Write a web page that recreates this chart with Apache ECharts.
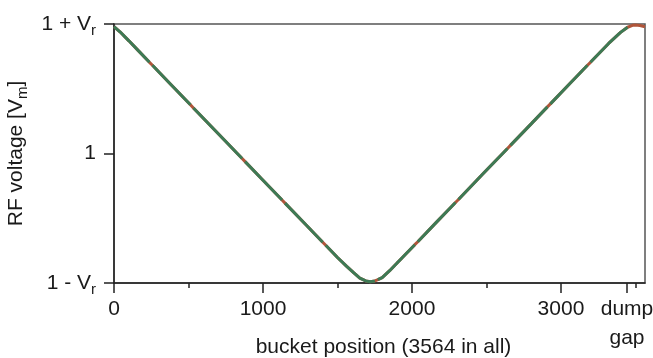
<!DOCTYPE html>
<html>
<head>
<meta charset="utf-8">
<script src="https://cdn.jsdelivr.net/npm/echarts@6/dist/echarts.min.js"></script>
<style>
  html, body { margin: 0; padding: 0; background: #fff; }
  #chart { width: 653px; height: 358px; }
</style>
</head>
<body>
<div id="chart"></div>
<script>
// ---- data ----
const buckets = [0,40,100,160,238,258,380,513,533,700,860,880,1000,1128,1148,1280,1401,1421,1500,1560,1610,1650,1690,1720,1751,1771,1800,1850,1900,2019,2039,2160,2292,2312,2480,2641,2661,2800,2909,2929,3060,3178,3198,3320,3400,3447,3480,3500,3530,3564];
const voltage = [0.979,0.940,0.870,0.798,0.704,0.681,0.535,0.376,0.352,0.152,-0.039,-0.063,-0.206,-0.359,-0.383,-0.541,-0.685,-0.709,-0.803,-0.870,-0.922,-0.962,-0.984,-0.990,-0.984,-0.974,-0.958,-0.905,-0.846,-0.704,-0.681,-0.536,-0.378,-0.355,-0.153,0.039,0.063,0.229,0.360,0.383,0.540,0.681,0.704,0.850,0.935,0.975,0.990,0.992,0.988,0.979];
const batchGaps = [248, 523, 870, 1138, 1411, 1761, 2029, 2302, 2651, 2919, 3188];
const greenEnd = 3447;
const xMajorTicks = [0, 1000, 2000, 3000, 3443];
const xMinorTicks = [500, 1500, 2500, 3500];
const xTickLabels = ['0', '1000', '2000', '3000', 'dump\ngap'];
const yTicks = [-1, 0, 1];
const yTickLabels = ['{n|1 - V}{s|r}', '{n|1}', '{n|1 + V}{s|r}'];

const full = buckets.map((b, i) => [b, voltage[i]]);
const green = [];
for (let i = 0; i < buckets.length; i++) {
  if (buckets[i] > greenEnd) break;
  if (i > 0) batchGaps.forEach(g => { if (g > buckets[i-1] && g < buckets[i]) green.push([g, null]); });
  green.push([buckets[i], voltage[i]]);
}

const FONT = 'Liberation Sans';
const FS = 21;
const TXT = '#1a1a1a';
const richText = {
  n: { fontFamily: FONT, fontSize: FS, color: TXT, lineHeight: 21 },
  s: { fontFamily: FONT, fontSize: 15, color: TXT, lineHeight: 8, padding: [13, 0, 0, 0] }
};
const chart = echarts.init(document.getElementById('chart'), null, { renderer: 'canvas' });
chart.setOption({
  animation: false,
  backgroundColor: '#fff',
  textStyle: { fontFamily: FONT },
  grid: { left: 114, right: 8, top: 24, bottom: 75, show: true, borderColor: '#555', borderWidth: 1.5, backgroundColor: 'transparent', containLabel: false, outerBoundsMode: 'none' },
  xAxis: [{
    type: 'value', min: 0, max: 3564, position: 'bottom',
    name: 'bucket position (3564 in all)', nameLocation: 'middle', nameGap: 54, nameMoveOverlap: false,
    nameTextStyle: { fontFamily: FONT, fontSize: FS, color: TXT, padding: [0, 0, 0, 8] },
    axisLine: { show: true, onZero: false, lineStyle: { color: '#222', width: 1.5 } },
    axisTick: { show: true, inside: false, length: 10, customValues: xMajorTicks, lineStyle: { color: '#222', width: 1.5 } },
    axisLabel: {
      show: true, inside: false, customValues: xMajorTicks, margin: 12, fontFamily: FONT, fontSize: FS, color: TXT, lineHeight: 29,
      formatter: v => xTickLabels[xMajorTicks.indexOf(v)]
    },
    splitLine: { show: false }
  }, {
    type: 'value', min: 0, max: 3564, position: 'bottom', gridIndex: 0, offset: 0,
    axisLine: { show: false, onZero: false },
    axisTick: { show: true, inside: false, length: 5, customValues: xMinorTicks, lineStyle: { color: '#222', width: 1.5 } },
    axisLabel: { show: false },
    splitLine: { show: false }
  }],
  yAxis: {
    type: 'value', min: -1, max: 1, interval: 1,
    name: '{n|RF voltage [V}{s|m}{n|]}', nameLocation: 'middle', nameGap: 75,
    nameTextStyle: { rich: richText },
    axisLine: { show: true, onZero: false, lineStyle: { color: '#222', width: 1.5 } },
    axisTick: { show: true, length: 10, lineStyle: { color: '#222', width: 1.5 } },
    axisLabel: {
      margin: 18,
      formatter: v => yTickLabels[yTicks.indexOf(v)],
      rich: richText
    },
    splitLine: { show: false }
  },
  series: [{
    type: 'line', data: full, showSymbol: false, symbol: 'none', clip: false, smooth: false,
    lineStyle: { color: '#b0553a', width: 3 }, z: 2
  }, {
    type: 'line', data: green, showSymbol: false, symbol: 'none', clip: false, connectNulls: false,
    lineStyle: { color: '#3d7a55', width: 3 }, z: 3
  }]
});
</script>
</body>
</html>
